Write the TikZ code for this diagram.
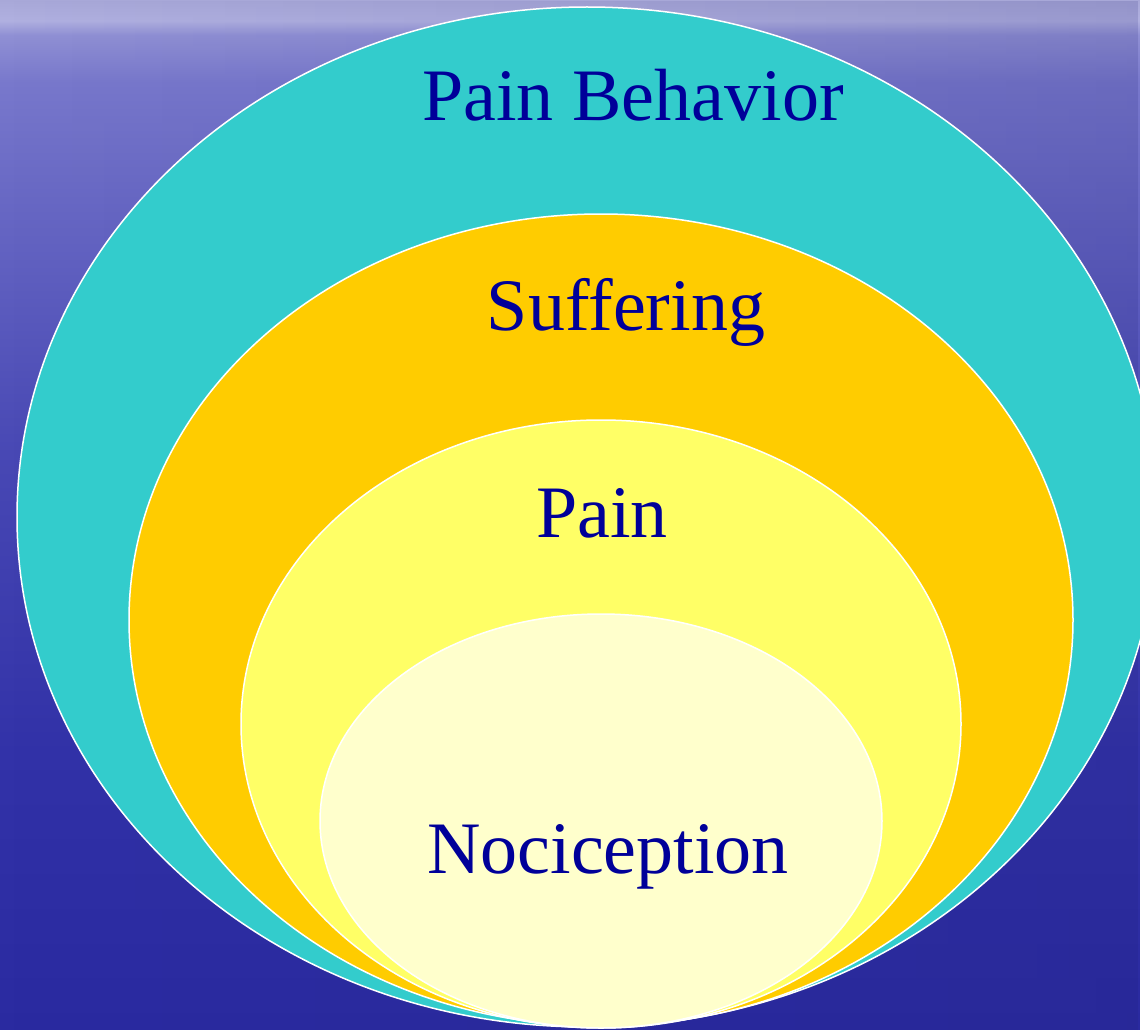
\documentclass[tikz,border=0pt]{standalone}
\usepackage{fontspec}
\setmainfont{Liberation Serif}
\usetikzlibrary{fadings}
\definecolor{bgA}{RGB}{42,42,160}
\definecolor{bgB}{RGB}{50,50,168}
\definecolor{bgC}{RGB}{72,72,180}
\definecolor{bgD}{RGB}{104,104,196}
\definecolor{bgE}{RGB}{120,120,204}
\definecolor{bgF}{RGB}{144,144,212}
\definecolor{bgG}{RGB}{176,176,224}
\definecolor{bgH}{RGB}{168,168,216}
\definecolor{ringA}{RGB}{51,204,204}
\definecolor{ringB}{RGB}{255,204,0}
\definecolor{ringC}{RGB}{255,255,102}
\definecolor{ringD}{RGB}{255,255,204}
\definecolor{txt}{RGB}{0,0,153}
\pgfdeclareverticalshading{seabg}{100bp}{color(0bp)=(bgA); color(25bp)=(bgA); color(38.5bp)=(bgB); color(53bp)=(bgC); color(65.3bp)=(bgD); color(71bp)=(bgE); color(73.3bp)=(bgF); color(74bp)=(bgG); color(75bp)=(bgH); color(100bp)=(bgH)}
\tikzset{
  ring/.style={draw=white, line width=1.5pt},
  lbl/.style={anchor=base, text=txt, inner sep=0pt, font=\fontsize{74}{88}\selectfont}
}
\begin{document}
\begin{tikzpicture}[x=1pt,y=-1pt]
\useasboundingbox (0,0) rectangle (1140,1030);
\clip (0,0) rectangle (1140,1030);
\shade[shading=seabg] (0,0) rectangle (1140,1030);
\fill[bgA!70!black, opacity=0.15, path fading=west] (0,0) rectangle (1140,1030);
\draw[ring, fill=ringA] (587,517) ellipse [x radius=570, y radius=510];
\draw[ring, fill=ringB] (601,620) ellipse [x radius=472, y radius=406];
\draw[ring, fill=ringC] (601,724) ellipse [x radius=360, y radius=304];
\draw[ring, fill=ringD] (601,821) ellipse [x radius=281, y radius=207];
\node[lbl] (behavior) at (633,121) {Pain Behavior};
\node[lbl] (suffering) at (626,330) {Suffering};
\node[lbl] (pain) at (602,537) {Pain};
\node[lbl] (nociception) at (608,873) {Nociception};
\end{tikzpicture}
\end{document}
